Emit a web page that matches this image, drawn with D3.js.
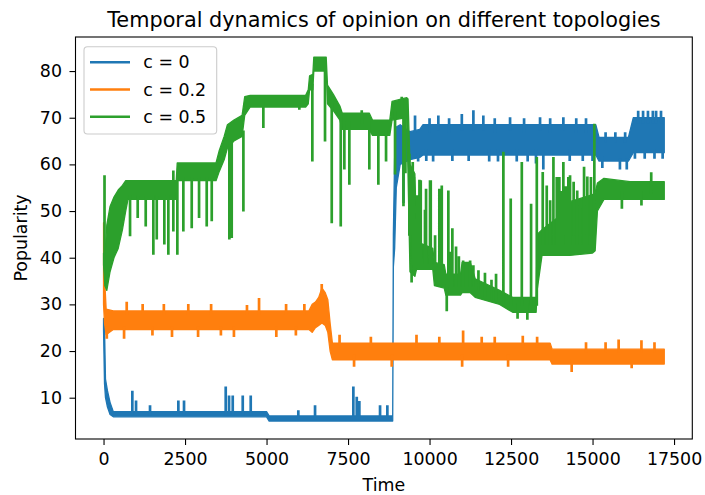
<!DOCTYPE html>
<html><head><meta charset="utf-8">
<script src="https://cdn.jsdelivr.net/npm/d3@7"></script>
<style>
body{margin:0;background:#fff;}
svg{display:block;font-family:"DejaVu Sans",sans-serif;}
</style></head>
<body>
<svg id="chart" width="705" height="495"></svg>
<script>
// ---------- data ----------
const titleText = "Temporal dynamics of opinion on different topologies";
const xLabel = "Time";
const yLabel = "Popularity";
const seriesNames = ["c = 0", "c = 0.2", "c = 0.5"];
const seriesColors = ["#1f77b4", "#ff7f0e", "#2ca02c"];
const xTicks = [0, 2500, 5000, 7500, 10000, 12500, 15000, 17500];
const yTicks = [10, 20, 30, 40, 50, 60, 70, 80];

// dense noise band of each series: [time, low, high]
const blueBand = [
  [0, 24.5, 27], [30, 13, 25], [60, 10, 14], [120, 8, 11.5], [200, 6.4, 9],
  [300, 5.9, 7.0], [5000, 5.9, 7.0], [5080, 5.0, 6.1], [8870, 5.0, 6.1],
  [8890, 38, 45], [8930, 42, 62], [8980, 55, 68], [9100, 60, 68.5],
  [9400, 61, 67], [9700, 61.5, 67.5], [9800, 62, 68.5], [15100, 62, 68.5],
  [15200, 60.7, 65.8], [16100, 60.7, 65.8], [16250, 62.5, 70], [17200, 62.5, 70]
];
const orangeBand = [
  [0, 30, 47.5], [30, 26, 36], [80, 23.5, 29], [300, 24.6, 28.6], [6300, 24.6, 28.6],
  [6400, 24, 30], [6500, 25, 30.5], [6600, 25.5, 31.5], [6700, 26, 33.5],
  [6800, 25.5, 32.5], [6880, 24, 31], [6950, 20, 26], [7020, 18.1, 21.7],
  [13700, 18.1, 21.7], [13760, 17.2, 20.4], [17200, 17.2, 20.4]
];
const greenBand = [
  [0, 38.5, 41], [40, 34, 40], [100, 33, 47], [200, 37, 51], [320, 40, 53],
  [450, 42, 54.5], [580, 46, 55.5], [680, 50, 56.5], [750, 52.5, 56.5],
  [2230, 52.5, 56.5], [2260, 56.5, 60.3], [3450, 56.5, 60.3], [3550, 58.5, 63],
  [3700, 61, 66], [3800, 63.5, 68.5], [4000, 65, 69.5], [4250, 66, 70.5],
  [4330, 70.5, 74.5], [4500, 72.3, 74.8], [6200, 72.3, 74.8], [6280, 73, 76],
  [6320, 76, 79], [6420, 76, 79.3], [6450, 80, 83], [6830, 80, 83], [6870, 73, 77],
  [7050, 71.5, 75], [7250, 69.5, 72.5], [7320, 67.5, 71], [8150, 67.5, 71],
  [8250, 66.2, 69.5], [8780, 66.2, 69.5], [8850, 69.5, 73.5], [9300, 70, 74.3],
  [9340, 58, 74], [9400, 37, 60], [9550, 36, 58], [9600, 37.5, 45], [9750, 37.5, 43],
  [10100, 37.5, 42], [10150, 34, 39], [10450, 33.5, 38.5], [10500, 32, 36.5],
  [10950, 32, 36.5], [11000, 32.5, 39], [11250, 32.5, 39], [11400, 31.5, 35.5],
  [12150, 30, 33], [12550, 28.3, 31.5], [13270, 28.3, 31.5], [13300, 33, 45],
  [13450, 40.5, 46], [14000, 40.5, 49], [14300, 40.5, 52], [15000, 41, 53.5],
  [15080, 41.5, 54], [15150, 50, 56], [15350, 52.5, 57], [16150, 52.5, 56.3],
  [17200, 52.5, 56.3]
];

// excursions outside the dense band: [time, from, to]
const blueSpikes = [
  [883, 6.5, 11.2], [997, 6.5, 9.1], [1426, 6.5, 8.1], [2295, 6.5, 9.1], [2469, 6.5, 9.1],
  [3748, 6.5, 12.1], [3850, 6.5, 10.2], [3963, 6.5, 10.2], [4270, 6.5, 10.2], [4515, 6.5, 10.2],
  [5975, 5.6, 7.0], [6488, 5.6, 8.1], [7663, 5.6, 12.1], [7767, 5.6, 9.9], [7847, 5.6, 9.0],
  [8482, 5.6, 8.1], [8706, 5.6, 8.1],
  [9200, 62, 52], [9555, 67, 70.2], [9650, 62, 60.9], [9900, 63, 61], [10000, 67, 69.6],
  [10110, 62.5, 60.9], [10270, 67.5, 70.2], [10600, 67, 69.6], [10700, 63, 61],
  [10990, 67.5, 70.5], [11200, 63, 61], [11345, 67.5, 71.3], [11650, 67.5, 70.2],
  [11830, 63, 60.9], [12000, 67, 69.6], [12100, 63, 60.9], [12470, 67.5, 69.8],
  [12675, 63, 60.9], [12900, 67, 69.6], [13010, 63, 60.9], [13265, 63, 60.5],
  [13390, 67.5, 69.8], [13490, 63, 59.2], [13700, 67, 69.6], [14105, 67.5, 69.8],
  [14300, 63, 61], [14500, 67, 69.6], [14700, 63, 61], [14800, 67, 69.6], [15000, 63, 61],
  [15300, 61.5, 59.5], [15400, 65, 66.6], [15700, 65, 66.6], [15840, 61, 59.2],
  [16000, 65, 66.6], [16050, 61, 59.2], [16300, 63, 61.5], [16400, 69, 71.2],
  [16550, 69, 71.2], [16600, 63, 61.5], [16700, 69, 71.2], [16850, 69, 71.2],
  [16900, 63, 61.5], [16950, 69, 71.2], [17100, 69, 71.2], [17150, 63, 61.5]
];
const orangeSpikes = [
  [100, 25, 22.9], [630, 25, 22.9], [711, 28, 30.3], [1200, 28, 29.8], [1850, 28, 29.8],
  [2600, 28, 29.8], [3300, 28, 29.8], [4770, 28, 31.1], [5600, 28, 29.8], [6160, 28, 29.8],
  [1500, 25, 23.6], [2100, 25, 23.3], [2900, 25, 23.3], [3600, 25, 23.6], [4000, 25, 23.3],
  [4400, 28, 29.6], [5300, 25, 23.3], [5900, 25, 23.6], [6693, 31, 34.1],
  [7240, 21, 23.2], [7685, 19, 16.9], [8200, 21, 22.8], [8840, 19, 16.9], [9600, 21, 23.2],
  [10300, 21, 22.8], [11000, 19, 16.9], [11030, 21, 24.1], [11600, 21, 22.8],
  [12000, 21, 22.8], [12410, 19, 16.9], [12860, 21, 23], [13300, 21, 22.8],
  [14360, 18, 15.8], [14800, 20, 21.6], [15400, 20, 21.6], [15800, 20, 22.2],
  [16200, 18, 16.6], [16500, 20, 22], [16900, 20, 21.6]
];
const greenSpikes = [
  [30, 40, 57.4], [813, 53, 44.9], [1048, 53, 48.8], [1294, 53, 47], [1528, 53, 40.9],
  [1632, 53, 44.2], [1865, 53, 43.1], [1988, 53, 40.9], [2141, 53, 45.9], [2141, 56, 58.4],
  [2264, 57, 40.9], [2448, 57, 45.9], [2705, 57, 46.6], [2930, 57, 48.8], [3165, 57, 47],
  [3319, 57, 48.1], [3860, 64, 44.2], [3932, 65, 44.5], [4290, 67, 50.2], [4902, 73, 68.1],
  [6006, 73, 72], [6405, 77, 60.9], [6794, 81, 65.2], [6897, 74, 75.9], [7000, 73, 47.7],
  [7276, 71, 47], [7387, 69, 59.2], [7540, 69, 55.9], [7920, 69, 71.3], [8153, 69, 59.2],
  [8430, 67, 55.9], [8666, 67, 60.9], [8942, 71, 58.1], [9147, 72, 74.2], [9200, 70, 51.3],
  [9260, 70, 58.4], [9380, 45, 62], [9420, 45, 58], [9450, 38, 35], [9485, 40, 60.2],
  [9520, 40, 57], [9560, 40, 48], [9607, 40, 53.1], [9640, 40, 52], [9690, 40, 56.4],
  [9730, 40, 56.3], [9860, 39, 50], [9893, 39, 54.5], [10015, 39, 56.3], [10037, 39, 56.3],
  [10170, 39, 44.5], [10300, 38, 54.5], [10375, 38, 55.2], [10528, 34, 28.8],
  [10577, 34, 54.1], [10650, 34, 41], [10700, 34, 46], [10813, 34, 42.1], [10900, 34, 40],
  [11030, 34, 39.1], [11245, 34, 39.1], [11345, 34, 38.1], [11500, 33, 37],
  [11700, 32, 36.5], [11900, 31, 35], [12040, 31, 36.3], [12265, 30, 62.4],
  [12490, 30, 52.4], [12700, 30, 27.2], [12830, 30, 60.2], [13000, 30, 27],
  [13115, 30, 51.3], [13290, 30, 61.3],
  [13472, 43, 58.1], [13595, 43, 55.2], [13700, 43, 52], [13800, 43, 61.3], [13902, 43, 57],
  [13982, 43, 57], [14050, 43, 54], [14105, 43, 60.2], [14180, 45, 55], [14258, 43, 57],
  [14310, 43, 57.4], [14420, 45, 56], [14530, 43, 54.1], [14617, 43, 50.2],
  [14740, 43, 59.2], [14840, 43, 57.1], [14950, 45, 57], [15055, 43, 68.4],
  [15900, 54, 50.8], [16500, 54, 51.5], [16800, 54, 58]
];

const bands = [blueBand, orangeBand, greenBand];
const spikes = [blueSpikes, orangeSpikes, greenSpikes];

// ---------- layout ----------
const plot = {left: 75.5, right: 692.3, top: 37, bottom: 439};
const xDomain = [-860, 18060];
const yDomain = [1.15, 87.3];
const tickFont = 17.4, titleFont = 20.8;

const svg = d3.select("#chart");
const x = d3.scaleLinear().domain(xDomain).range([plot.left, plot.right]);
const y = d3.scaleLinear().domain(yDomain).range([plot.bottom, plot.top]);

svg.append("clipPath").attr("id", "clip").append("rect")
  .attr("x", plot.left).attr("y", plot.top)
  .attr("width", plot.right - plot.left).attr("height", plot.bottom - plot.top);

const g = svg.append("g").attr("clip-path", "url(#clip)");

const area = d3.area().x(d => x(d[0])).y0(d => y(d[1])).y1(d => y(d[2]));
const seg = d3.line().x(d => x(d[0])).y(d => y(d[1]));

bands.forEach((band, i) => {
  g.append("path").attr("d", area(band))
    .attr("fill", seriesColors[i]).attr("stroke", seriesColors[i])
    .attr("stroke-width", 1.3).attr("stroke-linejoin", "round");
  const d = spikes[i].map(s => seg([[s[0], s[1]], [s[0], s[2]]])).join("");
  g.append("path").attr("d", d).attr("fill", "none")
    .attr("stroke", seriesColors[i]).attr("stroke-width", 2.7)
    .attr("stroke-linecap", "square");
});

// ---------- axes ----------
const xAxis = d3.axisBottom(x).tickValues(xTicks).tickFormat(d3.format("d"))
  .tickSize(6).tickSizeOuter(0).tickPadding(8);
const yAxis = d3.axisLeft(y).tickValues(yTicks).tickFormat(d3.format("d"))
  .tickSize(6).tickSizeOuter(0).tickPadding(7.5);

const gx = svg.append("g").attr("transform", `translate(0,${plot.bottom})`).call(xAxis);
const gy = svg.append("g").attr("transform", `translate(${plot.left},0)`).call(yAxis);
[gx, gy].forEach(a => {
  a.select(".domain").remove();
  a.selectAll(".tick line").attr("stroke", "#000").attr("stroke-width", 1.1);
  a.selectAll(".tick text").attr("fill", "#000")
    .style("font-family", "DejaVu Sans").style("font-size", tickFont + "px");
});

svg.append("rect").attr("x", plot.left).attr("y", plot.top)
  .attr("width", plot.right - plot.left).attr("height", plot.bottom - plot.top)
  .attr("fill", "none").attr("stroke", "#000").attr("stroke-width", 1.1);

// ---------- labels ----------
svg.append("text").attr("x", (plot.left + plot.right) / 2).attr("y", 26.6)
  .attr("text-anchor", "middle").style("font-size", titleFont + "px").text(titleText);
svg.append("text").attr("x", (plot.left + plot.right) / 2).attr("y", 490.5)
  .attr("text-anchor", "middle").style("font-size", tickFont + "px").text(xLabel);
svg.append("text").attr("transform", `translate(27,${(plot.top + plot.bottom) / 2}) rotate(-90)`)
  .attr("text-anchor", "middle").style("font-size", tickFont + "px").text(yLabel);

// ---------- legend ----------
const lg = svg.append("g");
lg.append("rect").attr("x", 84).attr("y", 46.7).attr("width", 132.7).attr("height", 87.3)
  .attr("rx", 3.5).attr("fill", "#fff").attr("fill-opacity", 0.8)
  .attr("stroke", "#cccccc").attr("stroke-width", 1.1);
seriesNames.forEach((name, i) => {
  const cy = 62.3 + i * 27.2;
  lg.append("line").attr("x1", 90).attr("x2", 130).attr("y1", cy).attr("y2", cy)
    .attr("stroke", seriesColors[i]).attr("stroke-width", 2.6);
  lg.append("text").attr("x", 143.3).attr("y", cy).attr("dy", "0.35em")
    .style("font-size", tickFont + "px").text(name);
});
</script>
</body></html>
